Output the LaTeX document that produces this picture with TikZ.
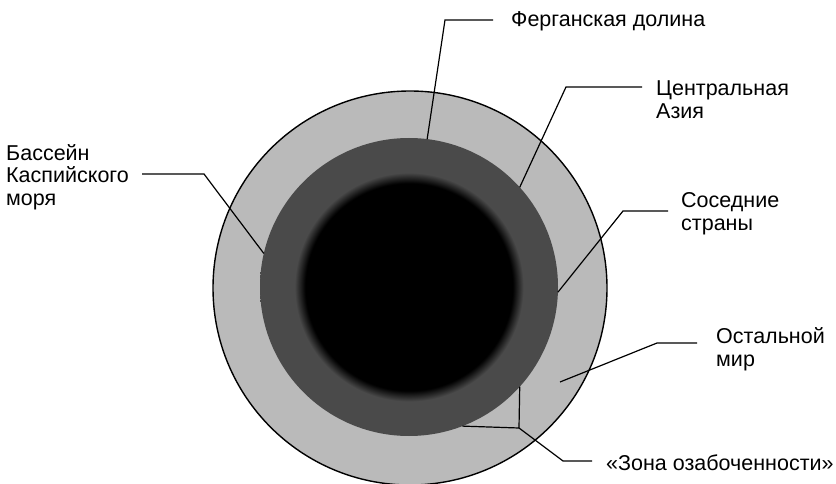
\documentclass[tikz,border=0pt]{standalone}
\usepackage{fontspec}
\setmainfont{Liberation Sans}
\usetikzlibrary{calc}
\definecolor{ringlight}{RGB}{186,186,186}
\definecolor{ringdark}{RGB}{74,74,74}
\pgfdeclareradialshading{coreshade}{\pgfpointorigin}{color(0bp)=(black); color(17.4bp)=(black); color(19.2bp)=(ringdark); color(25bp)=(ringdark); color(50bp)=(ringdark)}

\begin{document}
\begin{tikzpicture}[x=1pt,y=-1pt,
    ring/.style={circle, inner sep=0pt, outer sep=0pt},
    lbl/.style={anchor=base west, inner sep=0pt, align=left,
                font=\fontsize{21.5}{23}\selectfont},
    leader/.style={line width=1.2pt, line join=miter}]
  \useasboundingbox (0,0) rectangle (836,484);

  % the three zones
  \node[ring, fill=ringlight, draw=black, line width=1.4pt, minimum size=394pt] (world) at (410,288) {};
  \node[ring, shading=coreshade, minimum size=298pt] (asia) at (409,287) {};

  % labels (base = last line)
  \node[lbl] (fergana) at (511,27) {Ферганская долина};
  \node[lbl] (central) at (656,119) {Центральная\\Азия};
  \node[lbl] (neighbours) at (681,230) {Соседние\\страны};
  \node[lbl] (rest) at (716,366) {Остальной\\мир};
  \node[lbl] (caspian) at (6,206) {Бассейн\\Каспийского\\моря};
  \node[lbl] (concern) at (606,470) {«Зона озабоченности»};

  % leader lines
  \coordinate (fergKnee) at (445,20);
  \coordinate (fergEnd) at (493,20);
  \coordinate (centralKnee) at (566,87);
  \coordinate (centralEnd) at (642,87);
  \coordinate (neighKnee) at (623,211);
  \coordinate (neighEnd) at (668,211);
  \coordinate (restTip) at (560,382);
  \coordinate (restKnee) at (657,343);
  \coordinate (restEnd) at (697,343);
  \coordinate (caspKnee) at (204,174);
  \coordinate (caspEnd) at (142,174);
  \coordinate (concernJoin) at (519,428);
  \coordinate (concernKnee) at (563,461);
  \coordinate (concernEnd) at (592,461);

  \draw[leader] (asia.83) -- (fergKnee) -- (fergEnd);
  \draw[leader] (asia.42) -- (centralKnee) -- (centralEnd);
  \draw[leader] (asia.-2) -- (neighKnee) -- (neighEnd);
  \draw[leader] (restTip) -- (restKnee) -- (restEnd);
  \draw[leader] (asia.167.6) -- (caspKnee) -- (caspEnd);
  \draw[leader] (asia.-42) -- (concernJoin) -- (asia.-69);
  \draw[leader] (concernJoin) -- (concernKnee) -- (concernEnd);
\end{tikzpicture}
\end{document}
